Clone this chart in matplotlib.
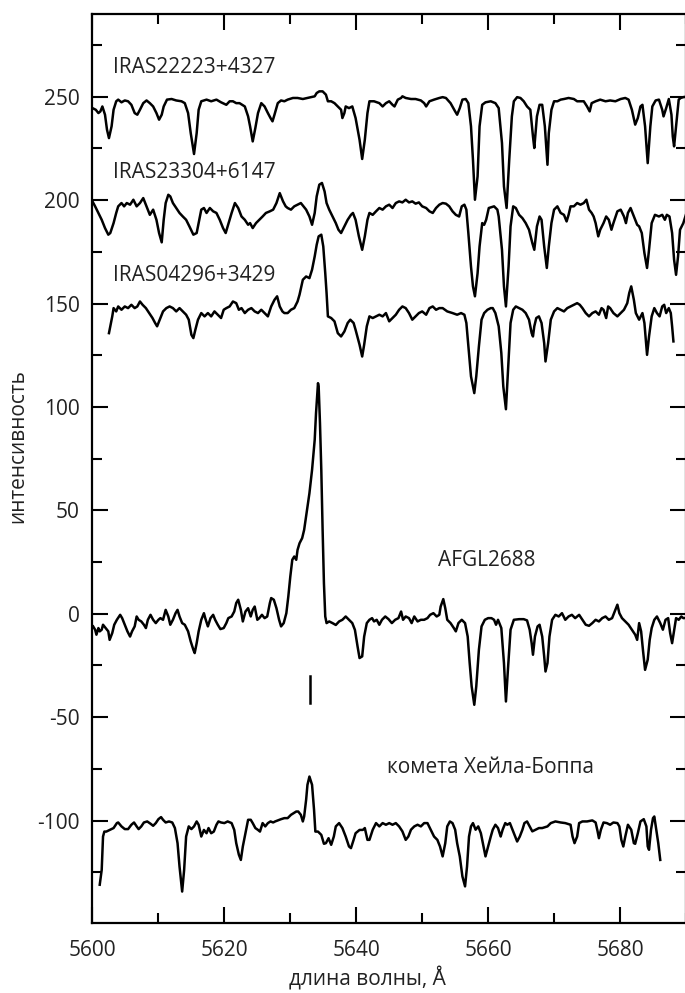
import numpy as np
import matplotlib
matplotlib.use("Agg")
import matplotlib.pyplot as plt
from matplotlib.ticker import MultipleLocator

plt.rcParams['font.family'] = ['Open Sans', 'DejaVu Sans']
plt.rcParams['axes.unicode_minus'] = False

# spectra: (wavelength A, intensity)
iras22223 = [
    (5600.0, 244.5), (5600.5, 243.7), (5600.9, 242.1), (5601.2, 242.9), (5601.5, 245.3), (5601.9, 241.3),
    (5602.2, 234.1), (5602.5, 230.0), (5602.9, 235.7), (5603.2, 243.7), (5603.6, 247.8), (5603.9, 248.6),
    (5604.4, 247.3), (5604.9, 248.2), (5605.4, 247.8), (5605.9, 246.1), (5606.4, 242.1), (5606.8, 241.3),
    (5607.2, 243.7), (5607.7, 246.9), (5608.2, 248.2), (5608.7, 246.9), (5609.2, 245.3), (5609.7, 242.1),
    (5610.1, 238.9), (5610.5, 241.3), (5610.8, 245.3), (5611.3, 248.6), (5612.0, 248.9), (5612.7, 248.2),
    (5613.5, 247.8), (5614.0, 246.9), (5614.5, 242.1), (5614.9, 232.4), (5615.4, 222.3), (5615.8, 232.4),
    (5616.1, 243.7), (5616.5, 247.8), (5617.3, 248.6), (5618.0, 247.8), (5618.8, 248.6), (5619.5, 247.3),
    (5620.3, 246.1), (5620.8, 247.8), (5621.3, 247.8), (5621.8, 246.9), (5622.3, 246.9), (5623.1, 245.3),
    (5623.6, 240.5), (5623.9, 235.7), (5624.3, 228.4), (5624.7, 234.9), (5625.1, 242.1), (5625.6, 246.9),
    (5626.1, 245.3), (5626.6, 242.1), (5627.0, 239.7), (5627.3, 238.1), (5627.6, 241.3), (5628.1, 246.9),
    (5628.6, 248.2), (5629.1, 247.8), (5629.6, 248.6), (5630.4, 249.4), (5631.1, 249.4), (5631.9, 248.9),
    (5632.6, 249.4), (5633.2, 249.8), (5633.7, 250.2), (5634.0, 251.8), (5634.4, 252.6), (5634.9, 252.6),
    (5635.4, 251.0), (5635.7, 247.8), (5636.2, 247.8), (5636.7, 246.9), (5637.2, 245.3), (5637.7, 243.7),
    (5637.9, 239.7), (5638.2, 242.1), (5638.4, 245.3), (5638.9, 244.5), (5639.4, 245.3), (5639.9, 239.7),
    (5640.5, 229.2), (5640.9, 219.9), (5641.3, 229.2), (5641.7, 242.1),
    (5642.0, 247.8), (5642.7, 247.8), (5643.5, 246.9), (5644.0, 245.3), (5644.5, 246.9), (5645.0, 247.8),
    (5645.5, 246.1), (5645.8, 245.3), (5646.3, 248.6), (5646.8, 249.4), (5647.0, 250.2), (5647.5, 249.4),
    (5648.3, 248.9), (5649.0, 248.9), (5649.8, 248.2), (5650.3, 246.9), (5650.6, 245.3), (5651.1, 247.8),
    (5651.8, 248.6), (5652.6, 249.4), (5653.1, 249.8), (5653.6, 249.4), (5654.3, 246.9), (5655.0, 242.9),
    (5655.3, 241.3), (5655.7, 244.5), (5656.1, 248.6), (5656.6, 248.9), (5657.0, 246.9), (5657.4, 235.7),
    (5657.7, 219.5), (5658.0, 200.2), (5658.4, 211.5), (5658.7, 235.7), (5659.1, 246.1), (5659.6, 247.3),
    (5660.4, 247.8), (5661.1, 246.9), (5661.6, 244.5), (5662.1, 227.6), (5662.4, 206.6), (5662.8, 196.2),
    (5663.2, 219.5), (5663.6, 240.5), (5663.9, 247.8), (5664.4, 249.8), (5664.9, 249.4), (5665.4, 247.8),
    (5665.9, 245.3), (5666.4, 243.7), (5666.8, 230.8), (5667.0, 225.2), (5667.4, 240.5), (5667.8, 246.1),
    (5668.2, 246.1), (5668.6, 235.7), (5669.0, 217.1), (5669.2, 232.4), (5669.6, 243.7), (5670.0, 247.8),
    (5670.5, 247.8), (5671.0, 248.6), (5671.5, 248.9), (5672.2, 249.4), (5673.0, 248.9), (5673.5, 247.8),
    (5674.0, 247.8), (5674.5, 247.8), (5675.0, 245.3), (5675.4, 242.9), (5675.7, 246.9), (5676.3, 247.8),
    (5677.0, 248.6), (5677.8, 247.8), (5678.5, 248.2), (5679.3, 247.8), (5680.1, 248.9), (5680.8, 249.4),
    (5681.3, 248.6), (5681.8, 243.7), (5682.3, 236.5), (5682.7, 239.7), (5683.1, 245.3), (5683.4, 246.1),
    (5683.8, 235.7), (5684.2, 217.9), (5684.6, 235.7), (5684.9, 245.3), (5685.4, 248.2), (5685.9, 248.6),
    (5686.4, 243.7), (5686.6, 240.5), (5687.0, 244.5), (5687.4, 248.9), (5687.8, 241.3), (5688.0, 230.8),
    (5688.2, 226.0), (5688.5, 235.7), (5688.9, 248.6), (5689.2, 249.4), (5689.6, 249.8), (5690.0, 250.0),
]

iras23304 = [
    (5600.0, 199.4), (5600.4, 197.0), (5600.9, 193.8), (5601.4, 190.5), (5601.9, 186.5), (5602.4, 183.3),
    (5602.7, 184.1), (5603.2, 188.9), (5603.6, 193.8), (5603.9, 197.0), (5604.4, 198.6), (5604.8, 197.0),
    (5605.2, 198.6), (5605.7, 197.8), (5606.2, 200.2), (5606.7, 197.0), (5607.2, 198.6), (5607.7, 201.0),
    (5608.2, 197.0), (5608.7, 192.9), (5609.2, 195.4), (5609.7, 190.5), (5610.1, 184.1), (5610.5, 179.6),
    (5610.8, 190.5), (5611.1, 198.6), (5611.5, 202.6), (5611.8, 201.8), (5612.2, 198.6), (5612.7, 196.2),
    (5613.2, 193.8), (5613.7, 192.1), (5614.2, 190.5), (5614.7, 187.3), (5615.3, 183.3), (5615.8, 184.1),
    (5616.1, 188.9), (5616.5, 195.4), (5616.9, 196.2), (5617.3, 193.8), (5617.8, 196.2), (5618.3, 194.6),
    (5618.8, 193.8), (5619.3, 190.5), (5619.8, 186.5), (5620.2, 184.1), (5620.5, 187.3), (5621.1, 193.8),
    (5621.6, 198.6), (5622.1, 196.2), (5622.6, 192.1), (5623.1, 190.5), (5623.6, 188.1), (5623.9, 188.9),
    (5624.3, 186.5), (5624.8, 188.9), (5625.3, 190.5), (5625.8, 192.1), (5626.3, 193.8), (5626.9, 194.6),
    (5627.4, 195.4), (5627.9, 198.6), (5628.4, 203.4), (5628.9, 199.4), (5629.3, 197.0), (5629.6, 196.2),
    (5630.1, 195.4), (5630.6, 197.0), (5631.1, 197.8), (5631.6, 198.6), (5632.0, 197.0), (5632.4, 195.4),
    (5632.9, 192.1), (5633.3, 188.1), (5633.7, 193.8), (5634.0, 201.8), (5634.4, 207.5), (5634.8, 208.3),
    (5635.2, 204.2), (5635.5, 198.6), (5635.9, 195.4), (5636.4, 192.1), (5636.9, 188.9), (5637.3, 185.7),
    (5637.7, 184.1), (5638.2, 187.3), (5638.7, 190.5), (5639.2, 192.9), (5639.5, 193.8), (5639.9, 190.5),
    (5640.4, 182.5), (5640.9, 176.0), (5641.3, 182.5), (5641.7, 190.5),
    (5642.0, 193.8), (5642.5, 192.9), (5643.0, 194.6), (5643.5, 196.2), (5644.0, 195.4), (5644.5, 197.0),
    (5645.0, 197.8), (5645.5, 196.2), (5646.0, 198.6), (5646.5, 199.4), (5647.0, 198.9), (5647.5, 200.2),
    (5648.0, 198.9), (5648.5, 199.4), (5649.0, 198.3), (5649.5, 198.9), (5650.0, 197.0), (5650.6, 196.2),
    (5651.1, 194.6), (5651.6, 193.8), (5652.1, 196.2), (5652.6, 197.8), (5653.1, 198.6), (5653.6, 198.3),
    (5654.1, 197.0), (5654.6, 194.6), (5655.1, 192.9), (5655.6, 192.1), (5656.0, 197.0), (5656.4, 197.8),
    (5656.7, 195.4), (5657.0, 184.1), (5657.4, 167.9), (5657.7, 158.3), (5658.0, 153.5), (5658.4, 164.7),
    (5658.7, 177.6), (5659.1, 188.9), (5659.4, 188.1), (5659.7, 190.5), (5660.1, 196.2), (5660.9, 197.0),
    (5661.4, 195.4), (5661.6, 192.1), (5662.1, 176.0), (5662.4, 158.3), (5662.7, 148.6), (5663.1, 167.9),
    (5663.4, 187.3), (5663.8, 197.0), (5664.2, 196.2), (5664.7, 192.9), (5665.2, 191.3), (5665.7, 188.9),
    (5666.2, 185.7), (5666.7, 179.3), (5667.0, 176.0), (5667.4, 187.3), (5667.8, 192.1), (5668.1, 190.5),
    (5668.5, 177.6), (5668.9, 167.2), (5669.2, 177.6), (5669.6, 188.9), (5670.0, 195.4), (5670.5, 197.0),
    (5671.0, 193.8), (5671.5, 192.9), (5671.9, 189.7), (5672.2, 192.9), (5672.5, 197.0), (5673.0, 197.0),
    (5673.5, 198.6), (5674.0, 197.8), (5674.5, 198.6), (5674.9, 200.2), (5675.3, 195.4), (5675.7, 193.8),
    (5676.0, 192.1), (5676.3, 188.9), (5676.7, 182.5), (5677.0, 185.7), (5677.5, 188.9), (5677.9, 192.1),
    (5678.3, 190.5), (5678.7, 185.7), (5679.0, 188.9), (5679.6, 194.6), (5680.1, 195.4), (5680.6, 192.1),
    (5680.9, 188.9), (5681.2, 193.8), (5681.6, 196.2), (5682.1, 192.1), (5682.6, 188.1), (5682.9, 187.3),
    (5683.3, 184.1), (5683.7, 174.4), (5684.1, 167.2), (5684.4, 176.0), (5684.8, 188.9), (5685.3, 192.9),
    (5685.9, 192.1), (5686.4, 192.9), (5686.8, 190.5), (5687.1, 192.9), (5687.5, 192.1), (5687.9, 184.1),
    (5688.2, 171.2), (5688.5, 163.9), (5688.8, 172.8), (5689.1, 185.7), (5689.6, 188.9), (5690.0, 193.0),
]

iras04296 = [
    (5602.5, 135.7), (5602.7, 139.0), (5603.0, 143.8), (5603.2, 147.8), (5603.6, 146.2), (5603.9, 148.6),
    (5604.4, 147.0), (5604.9, 148.6), (5605.4, 147.8), (5605.9, 149.4), (5606.4, 147.8), (5606.8, 148.6),
    (5607.2, 151.0), (5607.6, 149.4), (5608.1, 147.8), (5608.6, 145.4), (5609.1, 143.0), (5609.5, 140.6),
    (5609.8, 139.0), (5610.2, 142.2), (5610.7, 146.2), (5611.2, 147.8), (5611.7, 148.6), (5612.2, 147.8),
    (5612.7, 146.2), (5613.2, 147.8), (5613.7, 146.2), (5614.2, 144.6), (5614.6, 142.2), (5615.0, 134.9),
    (5615.3, 133.3), (5615.6, 137.3), (5616.0, 142.2), (5616.5, 145.4), (5617.0, 143.8), (5617.5, 145.4),
    (5618.0, 143.8), (5618.5, 146.2), (5619.0, 144.6), (5619.5, 143.0), (5619.9, 147.0), (5620.3, 147.8),
    (5620.8, 148.6), (5621.3, 151.0), (5621.8, 150.2), (5622.2, 147.0), (5622.6, 147.8), (5623.1, 145.4),
    (5623.6, 147.0), (5624.1, 147.8), (5624.6, 146.2), (5625.1, 145.4), (5625.6, 147.0), (5626.1, 145.4),
    (5626.6, 143.8), (5627.1, 148.6), (5627.6, 151.8), (5628.0, 153.5), (5628.4, 148.6), (5628.8, 146.2),
    (5629.1, 145.4), (5629.6, 145.4), (5630.1, 147.0), (5630.6, 147.8), (5631.1, 151.0), (5631.4, 154.3),
    (5631.9, 161.5), (5632.4, 163.1), (5632.9, 162.3), (5633.3, 166.4), (5633.7, 172.8), (5634.0, 178.4),
    (5634.3, 182.5), (5634.7, 183.3), (5635.0, 177.6), (5635.3, 164.7), (5635.5, 155.1), (5635.7, 143.8),
    (5636.2, 143.0), (5636.7, 141.4), (5637.2, 135.7), (5637.7, 134.1), (5638.2, 136.5), (5638.7, 140.6),
    (5639.1, 142.2), (5639.6, 140.6), (5639.9, 137.3), (5640.5, 130.1), (5640.9, 124.4), (5641.2, 130.1),
    (5641.6, 139.0),
    (5642.0, 143.8), (5642.5, 143.0), (5643.0, 143.8), (5643.5, 144.6), (5644.0, 143.8), (5644.5, 145.4),
    (5645.0, 141.4), (5645.5, 143.0), (5646.0, 144.6), (5646.5, 147.0), (5647.0, 148.6), (5647.5, 147.8),
    (5648.0, 145.4), (5648.5, 142.2), (5649.0, 143.8), (5649.5, 145.4), (5650.0, 146.2), (5650.6, 144.6),
    (5651.1, 147.8), (5651.6, 148.6), (5652.1, 147.0), (5652.6, 147.8), (5653.1, 147.8), (5653.8, 146.2),
    (5654.6, 145.4), (5655.3, 144.6), (5655.9, 145.4), (5656.4, 144.6), (5656.7, 140.6), (5657.0, 129.3),
    (5657.4, 114.8), (5657.9, 106.7), (5658.2, 114.8), (5658.6, 129.3), (5659.0, 142.2), (5659.4, 145.4),
    (5659.9, 147.0), (5660.4, 147.8), (5660.7, 147.8), (5661.1, 145.4), (5661.6, 139.0), (5662.0, 126.1),
    (5662.3, 109.9), (5662.7, 98.9), (5663.1, 122.8), (5663.4, 140.6), (5663.8, 147.0), (5664.2, 148.6),
    (5664.7, 147.8), (5665.2, 147.0), (5665.7, 145.4), (5666.2, 142.2), (5666.6, 135.7), (5666.8, 134.1),
    (5667.0, 139.0), (5667.3, 143.0), (5667.7, 143.8), (5668.1, 140.6), (5668.5, 130.9), (5668.7, 122.0),
    (5669.1, 130.9), (5669.5, 142.2), (5670.0, 146.2), (5670.5, 147.8), (5671.0, 147.0), (5671.5, 146.2),
    (5672.0, 147.8), (5672.5, 148.6), (5673.0, 149.4), (5673.5, 150.2), (5673.9, 149.4), (5674.3, 147.8),
    (5674.8, 145.4), (5675.3, 143.8), (5675.8, 145.4), (5676.3, 146.2), (5676.8, 144.6), (5677.2, 147.8),
    (5677.5, 147.0), (5677.9, 143.0), (5678.2, 148.6), (5678.5, 147.8), (5679.0, 145.4), (5679.6, 143.8),
    (5680.1, 145.4), (5680.6, 147.0), (5681.1, 150.2), (5681.4, 155.1), (5681.7, 158.3), (5682.1, 151.8),
    (5682.4, 145.4), (5682.9, 142.2), (5683.4, 145.4), (5683.7, 140.6), (5684.1, 125.2), (5684.4, 134.1),
    (5684.8, 143.8), (5685.2, 147.8), (5685.6, 145.4), (5686.0, 143.8), (5686.4, 148.6), (5686.7, 149.4),
    (5687.0, 145.4), (5687.4, 147.8), (5687.7, 145.4), (5687.9, 139.0), (5688.1, 131.7),
]

afgl2688 = [
    (5600.1, -6.1), (5600.4, -7.7), (5600.6, -10.1), (5600.9, -6.9), (5601.1, -8.5), (5601.4, -7.7),
    (5601.6, -5.3), (5602.0, -6.9), (5602.4, -8.5), (5602.6, -12.6), (5603.0, -9.3), (5603.3, -5.3),
    (5603.7, -2.9), (5604.2, -0.5), (5604.5, -2.1), (5604.9, -5.3), (5605.3, -8.5), (5605.7, -11.0),
    (5606.0, -8.5), (5606.4, -6.1), (5606.7, -1.3), (5607.0, -2.9), (5607.4, -3.7), (5607.8, -5.3),
    (5608.1, -6.9), (5608.4, -2.9), (5608.8, -0.5), (5609.2, -2.9), (5609.6, -4.5), (5610.0, -2.9),
    (5610.3, -2.1), (5610.7, -2.9), (5611.1, 1.9), (5611.5, -1.3), (5611.8, -5.3), (5612.2, -2.9),
    (5612.6, 0.3), (5612.9, 1.9), (5613.2, -1.3), (5613.6, -4.5), (5614.0, -5.3), (5614.5, -8.5),
    (5614.9, -13.4), (5615.3, -17.4), (5615.5, -19.0), (5615.8, -14.2), (5616.1, -8.5), (5616.5, -2.9),
    (5616.9, 0.3), (5617.1, -2.1), (5617.5, -6.1), (5617.9, -2.1), (5618.3, -0.5), (5618.6, -2.9),
    (5619.0, -5.3), (5619.4, -7.4), (5619.9, -6.9), (5620.3, -4.5), (5620.6, -2.1), (5621.1, -1.3),
    (5621.5, 1.1), (5621.8, 5.2), (5622.1, 6.8), (5622.5, 1.9), (5622.8, -3.7), (5623.2, 1.1),
    (5623.6, 2.7), (5624.0, -1.3), (5624.3, 1.9), (5624.6, 3.5), (5625.0, -2.9), (5625.3, -2.1),
    (5625.7, -0.5), (5626.1, -2.1), (5626.5, -1.3), (5626.9, 5.2), (5627.1, 7.6), (5627.5, 6.8),
    (5627.9, 2.7), (5628.3, -2.9), (5628.6, -6.1), (5629.0, -4.5), (5629.4, 0.3), (5629.7, 8.4),
    (5630.0, 18.0), (5630.3, 26.1), (5630.6, 27.7), (5630.9, 26.1), (5631.1, 30.9), (5631.4, 34.1),
    (5631.8, 36.6), (5632.1, 40.6), (5632.5, 49.5), (5632.9, 58.3), (5633.3, 69.6), (5633.7, 84.1),
    (5633.9, 97.0), (5634.2, 111.5), (5634.3, 109.9), (5634.5, 92.2), (5634.7, 69.6), (5634.9, 40.6),
    (5635.1, 14.8), (5635.3, -1.3), (5635.5, -4.5), (5635.9, -3.7), (5636.4, -4.5), (5636.9, -5.4),
    (5637.4, -3.7), (5637.9, -2.9), (5638.4, -1.3), (5638.9, -2.9), (5639.4, -4.5), (5639.8, -7.8),
    (5640.2, -15.8), (5640.5, -21.4), (5640.9, -20.6), (5641.2, -11.0), (5641.6, -4.5), (5642.0, -2.9),
    (5642.4, -2.1), (5642.7, -3.7), (5643.1, -2.9), (5643.5, -5.3), (5643.9, -2.9), (5644.4, -1.3),
    (5644.9, -2.6), (5645.4, -4.5), (5645.9, -2.9), (5646.4, -2.1), (5646.8, 1.1), (5647.1, -2.9),
    (5647.5, -1.3), (5648.0, -2.1), (5648.4, -4.5), (5648.8, -1.3), (5649.3, -3.7), (5649.8, -2.9),
    (5650.3, -2.9), (5650.8, -2.1), (5651.2, -0.5), (5651.7, 0.3), (5652.2, -1.3), (5652.6, -0.5),
    (5652.8, 3.5), (5653.2, 7.1), (5653.5, 2.7), (5653.8, -2.9), (5654.3, -4.5), (5654.8, -6.9),
    (5655.1, -8.5), (5655.5, -4.5), (5656.0, -2.9), (5656.5, -4.5), (5656.9, -11.0), (5657.2, -23.8),
    (5657.5, -35.1), (5657.9, -44.0), (5658.2, -35.1), (5658.6, -17.4), (5659.0, -6.1), (5659.5, -2.9),
    (5660.0, -2.1), (5660.5, -2.1), (5660.9, -2.9), (5661.2, -5.3), (5661.5, -2.9), (5662.0, -6.9),
    (5662.4, -23.8), (5662.7, -42.4), (5663.0, -27.1), (5663.4, -7.7), (5663.9, -2.9), (5664.7, -2.6),
    (5665.4, -2.6), (5665.9, -3.2), (5666.3, -7.7), (5666.6, -14.2), (5666.8, -19.8), (5667.1, -11.0),
    (5667.5, -6.1), (5667.8, -5.3), (5668.2, -11.0), (5668.5, -20.6), (5668.7, -27.9), (5669.0, -23.8),
    (5669.3, -11.0), (5669.7, -2.9), (5670.2, -0.5), (5670.7, -1.3), (5671.2, 0.3), (5671.7, -2.9),
    (5672.2, -1.3), (5672.7, -0.5), (5673.2, -2.1), (5673.8, -0.5), (5674.3, -2.9), (5674.8, -5.3),
    (5675.3, -5.8), (5675.8, -4.5), (5676.3, -2.9), (5676.8, -3.7), (5677.3, -2.1), (5677.8, -1.3),
    (5678.3, -2.9), (5678.8, -2.1), (5679.3, 1.9), (5679.6, 4.4), (5679.9, 0.3), (5680.3, -2.1),
    (5680.8, -3.7), (5681.3, -5.3), (5681.8, -7.7), (5682.3, -10.1), (5682.6, -12.6), (5682.9, -4.5),
    (5683.2, -8.5), (5683.5, -18.2), (5683.8, -27.1), (5684.2, -22.2), (5684.5, -12.6), (5684.8, -6.9),
    (5685.2, -2.9), (5685.6, -1.3), (5686.1, -4.5), (5686.5, -7.7), (5686.9, -2.9), (5687.3, -2.1),
    (5687.6, -9.3), (5687.9, -14.2), (5688.1, -10.1), (5688.5, -2.1), (5688.9, -2.9), (5689.3, -1.3),
    (5689.6, -2.1), (5690.0, -2.0),
]

hale_bopp = [
    (5601.1, -131.0), (5601.4, -123.8), (5601.6, -107.7), (5601.8, -105.3), (5602.1, -105.3), (5602.6, -104.5),
    (5603.2, -103.6), (5603.7, -101.2), (5603.9, -100.9), (5604.4, -102.8), (5604.9, -104.1), (5605.4, -104.1),
    (5605.9, -102.0), (5606.3, -100.9), (5606.7, -102.8), (5607.0, -104.1), (5607.4, -102.8), (5607.8, -100.9),
    (5608.3, -100.4), (5608.8, -101.5), (5609.2, -102.5), (5609.6, -101.2), (5610.0, -99.3), (5610.4, -98.3),
    (5610.7, -99.6), (5611.1, -100.9), (5611.6, -100.4), (5612.1, -100.9), (5612.5, -103.6), (5612.9, -110.9),
    (5613.2, -122.2), (5613.6, -134.3), (5613.9, -123.8), (5614.2, -107.7), (5614.6, -102.8), (5615.0, -104.1),
    (5615.4, -102.8), (5615.8, -100.4), (5616.1, -102.0), (5616.5, -107.7), (5616.9, -104.5), (5617.3, -106.1),
    (5617.6, -103.6), (5618.0, -106.1), (5618.4, -105.3), (5618.8, -102.0), (5619.1, -100.4), (5619.5, -100.9),
    (5620.0, -101.2), (5620.5, -100.4), (5621.1, -101.2), (5621.5, -104.5), (5621.8, -110.9), (5622.2, -116.5),
    (5622.5, -119.0), (5622.8, -112.5), (5623.2, -106.1), (5623.6, -99.6), (5624.0, -99.6), (5624.3, -101.2),
    (5624.7, -103.6), (5625.1, -104.5), (5625.4, -105.3), (5625.8, -101.2), (5626.2, -102.8), (5626.6, -101.2),
    (5627.0, -100.4), (5627.4, -100.9), (5627.7, -100.4), (5628.1, -99.9), (5628.6, -99.3), (5629.1, -98.8),
    (5629.6, -98.8), (5630.1, -97.2), (5630.5, -96.4), (5630.9, -95.6), (5631.2, -95.6), (5631.6, -97.2),
    (5631.9, -100.4), (5632.1, -98.0), (5632.4, -89.9), (5632.6, -82.7), (5632.9, -78.7), (5633.3, -82.7),
    (5633.6, -94.8), (5633.8, -105.3), (5634.2, -105.3), (5634.7, -106.9), (5635.1, -111.2), (5635.4, -110.9),
    (5635.8, -108.5), (5636.2, -111.7), (5636.6, -107.7), (5636.9, -102.8), (5637.4, -101.2), (5637.9, -103.6),
    (5638.4, -107.7), (5638.9, -112.5), (5639.2, -113.3), (5639.6, -109.3), (5639.9, -106.1), (5640.5, -104.5),
    (5641.0, -104.5), (5641.3, -103.6), (5641.7, -109.3),
    (5642.0, -109.3), (5642.5, -104.4), (5643.0, -101.2), (5643.5, -102.8), (5644.0, -101.2), (5644.5, -102.0),
    (5645.0, -101.2), (5645.5, -102.0), (5646.0, -101.2), (5646.5, -102.8), (5647.0, -105.2), (5647.5, -109.3),
    (5647.9, -107.7), (5648.3, -104.4), (5648.8, -102.8), (5649.3, -102.0), (5649.8, -102.8), (5650.3, -101.2),
    (5650.8, -101.2), (5651.3, -104.4), (5651.8, -107.7), (5652.3, -109.3), (5652.7, -112.5), (5653.1, -117.3),
    (5653.5, -110.9), (5653.8, -102.8), (5654.2, -100.4), (5654.6, -101.2), (5655.0, -104.4), (5655.3, -110.9),
    (5655.7, -117.3), (5656.1, -127.0), (5656.5, -131.8), (5656.8, -122.2), (5657.1, -107.7), (5657.4, -102.8),
    (5657.7, -101.2), (5658.1, -104.4), (5658.5, -102.8), (5658.9, -106.1), (5659.2, -110.9), (5659.6, -117.3),
    (5660.0, -112.5), (5660.4, -107.7), (5660.7, -104.4), (5661.1, -102.0), (5661.5, -103.6), (5661.9, -107.7),
    (5662.2, -104.4), (5662.6, -101.2), (5662.9, -102.0), (5663.3, -101.2), (5663.7, -104.4), (5664.0, -106.9),
    (5664.4, -110.1), (5664.8, -107.7), (5665.2, -104.4), (5665.5, -101.2), (5665.9, -100.4), (5666.3, -102.8),
    (5666.7, -105.2), (5667.2, -104.4), (5667.7, -103.6), (5668.2, -103.6), (5669.0, -102.8), (5669.5, -101.2),
    (5670.2, -100.4), (5671.0, -100.9), (5671.7, -101.2), (5672.5, -102.0), (5672.8, -107.7), (5673.1, -110.9),
    (5673.5, -107.7), (5673.8, -101.2), (5674.3, -100.4), (5675.0, -100.4), (5675.8, -99.9), (5676.3, -100.9),
    (5676.6, -105.2), (5676.8, -108.5), (5677.1, -104.4), (5677.5, -100.9), (5678.0, -101.2), (5678.5, -102.0),
    (5679.0, -100.9), (5679.6, -101.2), (5679.9, -102.8), (5680.2, -109.3), (5680.5, -112.5), (5680.8, -107.7),
    (5681.2, -102.0), (5681.7, -104.4), (5682.1, -110.9), (5682.3, -111.2), (5682.7, -106.1), (5683.1, -100.4),
    (5683.6, -99.3), (5684.0, -102.8), (5684.2, -112.5), (5684.4, -114.1), (5684.7, -104.4), (5685.0, -98.8),
    (5685.2, -98.0), (5685.5, -104.4), (5685.8, -110.9), (5686.1, -119.0),
]

spectra = [iras22223, iras23304, iras04296, afgl2688, hale_bopp]

names = ["IRAS22223+4327", "IRAS23304+6147", "IRAS04296+3429", "AFGL2688", "комета Хейла-Боппа"]
name_pos = [(5603.1, 264), (5603.1, 213.5), (5603.1, 163.4), (5652.4, 26), (5644.7, -74.5)]

# short vertical mark under the AFGL2688 peak
mark_wl = 5633.0
mark_range = (-43, -30)

fig = plt.figure(figsize=(6.85, 9.93), dpi=100)
ax = fig.add_axes([0.135, 0.0705, 0.8664, 0.9154])

for sp in spectra:
    d = np.array(sp)
    ax.plot(d[:, 0], d[:, 1], color='black', lw=1.8, solid_joinstyle='round')

ax.plot([mark_wl, mark_wl], mark_range, color='black', lw=1.8)

for name, (x, y) in zip(names, name_pos):
    ax.text(x, y, name, fontsize=15, va='center', ha='left', color='#222222')

ax.set_xlim(5600, 5690)
ax.set_ylim(-149.5, 290)

ax.xaxis.set_major_locator(MultipleLocator(20))
ax.xaxis.set_minor_locator(MultipleLocator(10))
ax.yaxis.set_major_locator(MultipleLocator(50))
ax.yaxis.set_minor_locator(MultipleLocator(25))

ax.tick_params(which='both', direction='in', top=True, right=True, width=1.5, colors='black')
ax.tick_params(which='major', length=11.5, labelsize=15, labelcolor='#222222')
ax.tick_params(which='minor', length=7)
ax.tick_params(axis='x', which='major', pad=12)
ax.tick_params(axis='y', which='major', pad=9)

for s in ax.spines.values():
    s.set_linewidth(1.6)

fig.text(367 / 685, 1 - 978 / 993, "длина волны, Å", fontsize=15, ha='center', va='center', color='#222222')
fig.text(18 / 685, 1 - 446 / 993, "интенсивность", fontsize=15, ha='center', va='center',
         rotation=90, color='#222222')

fig.savefig("out.png", dpi=100)
